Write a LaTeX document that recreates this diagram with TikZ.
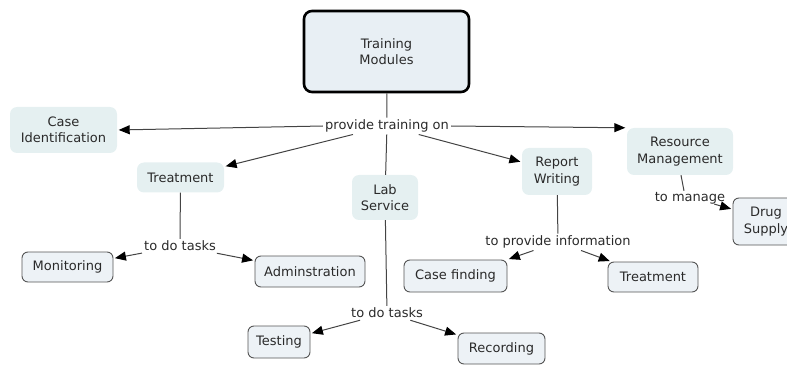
\documentclass[tikz,border=0pt]{standalone}
\usepackage{fontspec}
\setmainfont{DejaVu Sans}
\usetikzlibrary{arrows.meta}
\definecolor{txt}{HTML}{2A2A2A}
\definecolor{linec}{HTML}{444444}
\definecolor{softfill}{HTML}{E5F0F1}
\definecolor{boxfill}{HTML}{EDF2F6}
\definecolor{topfill}{HTML}{E8EFF4}
\definecolor{boxline}{HTML}{555555}
\tikzset{
  every node/.style={font=\fontsize{13}{16.5}\selectfont, text=txt, align=center},
  topbox/.style={draw=black, line width=2.6pt, fill=topfill, rounded corners=8pt},
  soft/.style={fill=softfill, rounded corners=7pt, inner sep=2pt},
  framed/.style={draw=boxline, line width=0.9pt, fill=boxfill, rounded corners=6pt, inner sep=2pt},
  linkword/.style={inner sep=2pt},
  conn/.style={draw=linec, line width=1pt},
  arr/.style={conn, -{Triangle[length=11pt,width=9pt,color=black]}, shorten >=1.5pt},
}
\begin{document}
\begin{tikzpicture}[x=1pt, y=-1pt]
\useasboundingbox (0,0) rectangle (787,366);

% concepts
\node[topbox, minimum width=165pt, minimum height=81pt] (tm) at (386.5,51.5) {Training\\Modules};
\node[soft, minimum width=107pt, minimum height=46pt] (ci) at (63.5,130) {Case\\Identification};
\node[soft, minimum width=87pt, minimum height=30pt] (tr1) at (180.5,177.5) {Treatment};
\node[soft, minimum width=66pt, minimum height=45pt] (ls) at (385,197.5) {Lab\\Service};
\node[soft, minimum width=70pt, minimum height=47pt] (rw) at (557,171.5) {Report\\Writing};
\node[soft, minimum width=106pt, minimum height=47pt] (rm) at (680,151.5) {Resource\\Management};
\node[framed, minimum width=66pt, minimum height=47pt] (ds) at (766,221.5) {Drug\\Supply};
\node[framed, minimum width=91pt, minimum height=30pt] (mon) at (67.5,267) {Monitoring};
\node[framed, minimum width=110pt, minimum height=31pt] (adm) at (310,271.5) {Adminstration};
\node[framed, minimum width=62pt, minimum height=32pt] (tst) at (279,342) {Testing};
\node[framed, minimum width=87pt, minimum height=31pt] (rec) at (501.5,348.5) {Recording};
\node[framed, minimum width=103pt, minimum height=32pt] (cf) at (455.5,276) {Case finding};
\node[framed, minimum width=90pt, minimum height=30pt] (tr2) at (653,277) {Treatment};

% linking phrases
\node[linkword] (ptl) at (387,126) {provide training on};
\node[linkword] (tdt1) at (180,246) {to do tasks};
\node[linkword] (tdt2) at (387,313) {to do tasks};
\node[linkword] (tpi) at (558,242) {to provide information};
\node[linkword, inner sep=1pt] (tman) at (690,198) {to manage};

% connectors
\draw[conn] (tm) -- (ptl);
\draw[arr] (ptl.west) -- (ci.east);
\draw[arr] (ptl) -- (tr1);
\draw[conn] (ptl) -- (ls);
\draw[arr] (ptl) -- (rw);
\draw[arr] (ptl.east) -- (rm.north west);

\draw[conn] (tr1) -- (tdt1);
\draw[arr] (tdt1) -- (mon);
\draw[arr] (tdt1) -- (adm);

\draw[conn] (ls) -- (tdt2);
\draw[arr] (tdt2) -- (tst);
\draw[arr] (tdt2) -- (rec);

\draw[conn] (rw) -- (tpi);
\draw[arr] (tpi) -- (cf.north east);
\draw[arr] (tpi) -- (tr2);

\draw[conn] ([xshift=1pt]rm.south) -- ([xshift=-6pt]tman.north);
\draw[arr] ([xshift=-12pt,yshift=1pt]tman.south east) -- (ds.160);
\end{tikzpicture}
\end{document}
